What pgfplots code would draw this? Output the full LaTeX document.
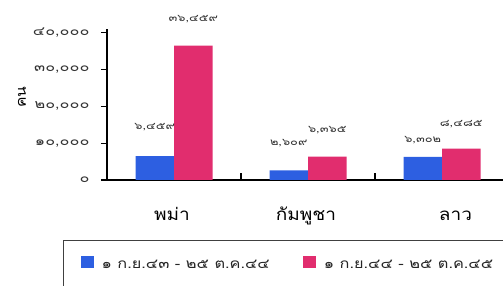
\documentclass[border=0pt]{standalone}
\usepackage{fontspec}
\setmainfont[Script=Thai]{Loma}
\newfontfamily\numfont[Script=Thai,FakeStretch=1.3]{Loma}
\newfontfamily\labfont[Script=Thai,FakeStretch=1.12]{Loma}
\newfontfamily\legfont[Script=Thai,FakeStretch=1.2]{Loma}
\usepackage{pgfplots}
\usepackage{pgfplotstable}
\pgfplotsset{compat=1.18}
\definecolor{bblue}{RGB}{45,95,225}
\definecolor{bpink}{RGB}{225,45,110}
\pgfplotstableread{
x y lab dy
0 6459 ๖,๔๕๙ 1
1 2609 ๒,๖๐๙ -1
2 6302 ๖,๓๐๒ -11
}\tblblue
\pgfplotstableread{
x y lab dy
0 36459 ๓๖,๔๕๙ -1
1 6365 ๖,๓๖๕ -2
2 8485 ๘,๔๘๕ -3
}\tblpink
\begin{document}
\begin{tikzpicture}
\begin{scope}
\clip (0pt,0pt) rectangle (503pt,286pt);
\begin{axis}[
  at={(107pt,106pt)}, anchor=south west,
  scale only axis, width=400pt, height=151pt,
  xmin=-0.5, xmax=2.485, ymin=0, ymax=41000,
  axis x line=bottom, axis y line=left,
  axis line style={-, line width=1.3pt},
  ybar=0pt, bar width=38.5pt,
  scaled y ticks=false,
  ytick={0,10000,20000,30000,40000},
  yticklabels={{๐},{๑๐,๐๐๐},{๒๐,๐๐๐},{๓๐,๐๐๐},{๔๐,๐๐๐}},
  tick align=outside, major tick length=6pt,
  ytick style={line width=1.2pt, black},
  yticklabel style={font=\numfont\fontsize{12.5}{14}\selectfont, text=black!80, xshift=-8pt},
  xtick={-0.015,0.985,2.1},
  xticklabels={พม่า,กัมพูชา,ลาว},
  xtick style={draw=none},
  xticklabel style={font=\labfont\fontsize{17}{19}\selectfont, anchor=base, yshift=-35pt},
  extra x ticks={0.5,1.5},
  extra x tick labels={},
  extra x tick style={tick align=inside, major tick length=7pt, xtick style={draw=black, line width=1.2pt}},
  ylabel={คน},
  ylabel style={at={(axis description cs:-0.2125,0.55)}, anchor=center, font=\labfont\fontsize{14}{16}\selectfont},
  nodes near coords,
  point meta=explicit symbolic,
  visualization depends on={\thisrow{dy} \as \dy},
  every node near coord/.append style={font=\numfont\fontsize{9.9}{11}\selectfont, text=black!80, anchor=center, inner sep=0pt, yshift=28pt+\dy pt},
  legend columns=2,
  legend image code/.code={\fill[#1] (0pt,-2pt) rectangle (13pt,10pt);},
  legend style={at={(axis description cs:-0.11,-0.397)}, anchor=north west,
    draw=black!75, line width=1.2pt, inner xsep=17pt, inner ysep=15pt,
    font=\legfont\fontsize{13.6}{16}\selectfont, text=black!85,
    /tikz/every odd column/.append style={column sep=6pt},
    /tikz/every even column/.append style={column sep=31pt}},
]
\addplot[fill=bblue, draw=none] table[x=x, y=y, meta=lab] {\tblblue};
\addplot[fill=bpink, draw=none] table[x=x, y=y, meta=lab] {\tblpink};
\legend{๑ ก.ย.๔๓ - ๒๕ ต.ค.๔๔, ๑ ก.ย.๔๔ - ๒๕ ต.ค.๔๕}
\end{axis}
\end{scope}
\pgfresetboundingbox
\path[use as bounding box] (0pt,0pt) rectangle (503pt,286pt);
\end{tikzpicture}
\end{document}
